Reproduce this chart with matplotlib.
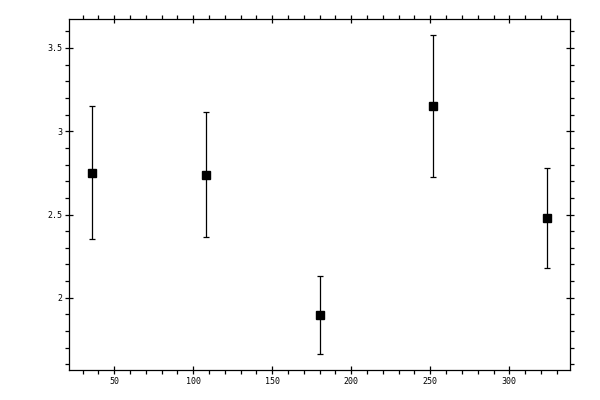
import matplotlib
matplotlib.use('Agg')
import matplotlib.pyplot as plt
from matplotlib.ticker import MultipleLocator

# values
x = [36, 108, 180, 252, 324]
y = [2.75, 2.74, 1.895, 3.15, 2.48]
err = [0.40, 0.375, 0.233, 0.427, 0.30]

plt.rcParams['font.family'] = 'DejaVu Sans Mono'

fig = plt.figure(figsize=(6, 4), dpi=100)
ax = fig.add_axes([0.1155, 0.075, 0.8345, 0.877])

ax.errorbar(x, y, yerr=err, fmt='s', color='black', ms=5.2,
            elinewidth=0.9, capsize=2.2, capthick=0.9)

ax.margins(0.05)
ax.xaxis.set_major_locator(MultipleLocator(50))
ax.xaxis.set_minor_locator(MultipleLocator(10))
ax.yaxis.set_major_locator(MultipleLocator(0.5))
ax.yaxis.set_minor_locator(MultipleLocator(0.1))
ax.yaxis.set_major_formatter(plt.FuncFormatter(lambda v, p: f'{v:g}'))

for s in ax.spines.values():
    s.set_linewidth(0.9)
ax.tick_params(which='major', direction='inout', length=6, width=0.9,
               labelsize=6, pad=2, top=True, right=True)
ax.tick_params(which='minor', direction='out', length=2.6, width=0.9,
               top=True, right=True)

fig.savefig('out.png', dpi=100)
